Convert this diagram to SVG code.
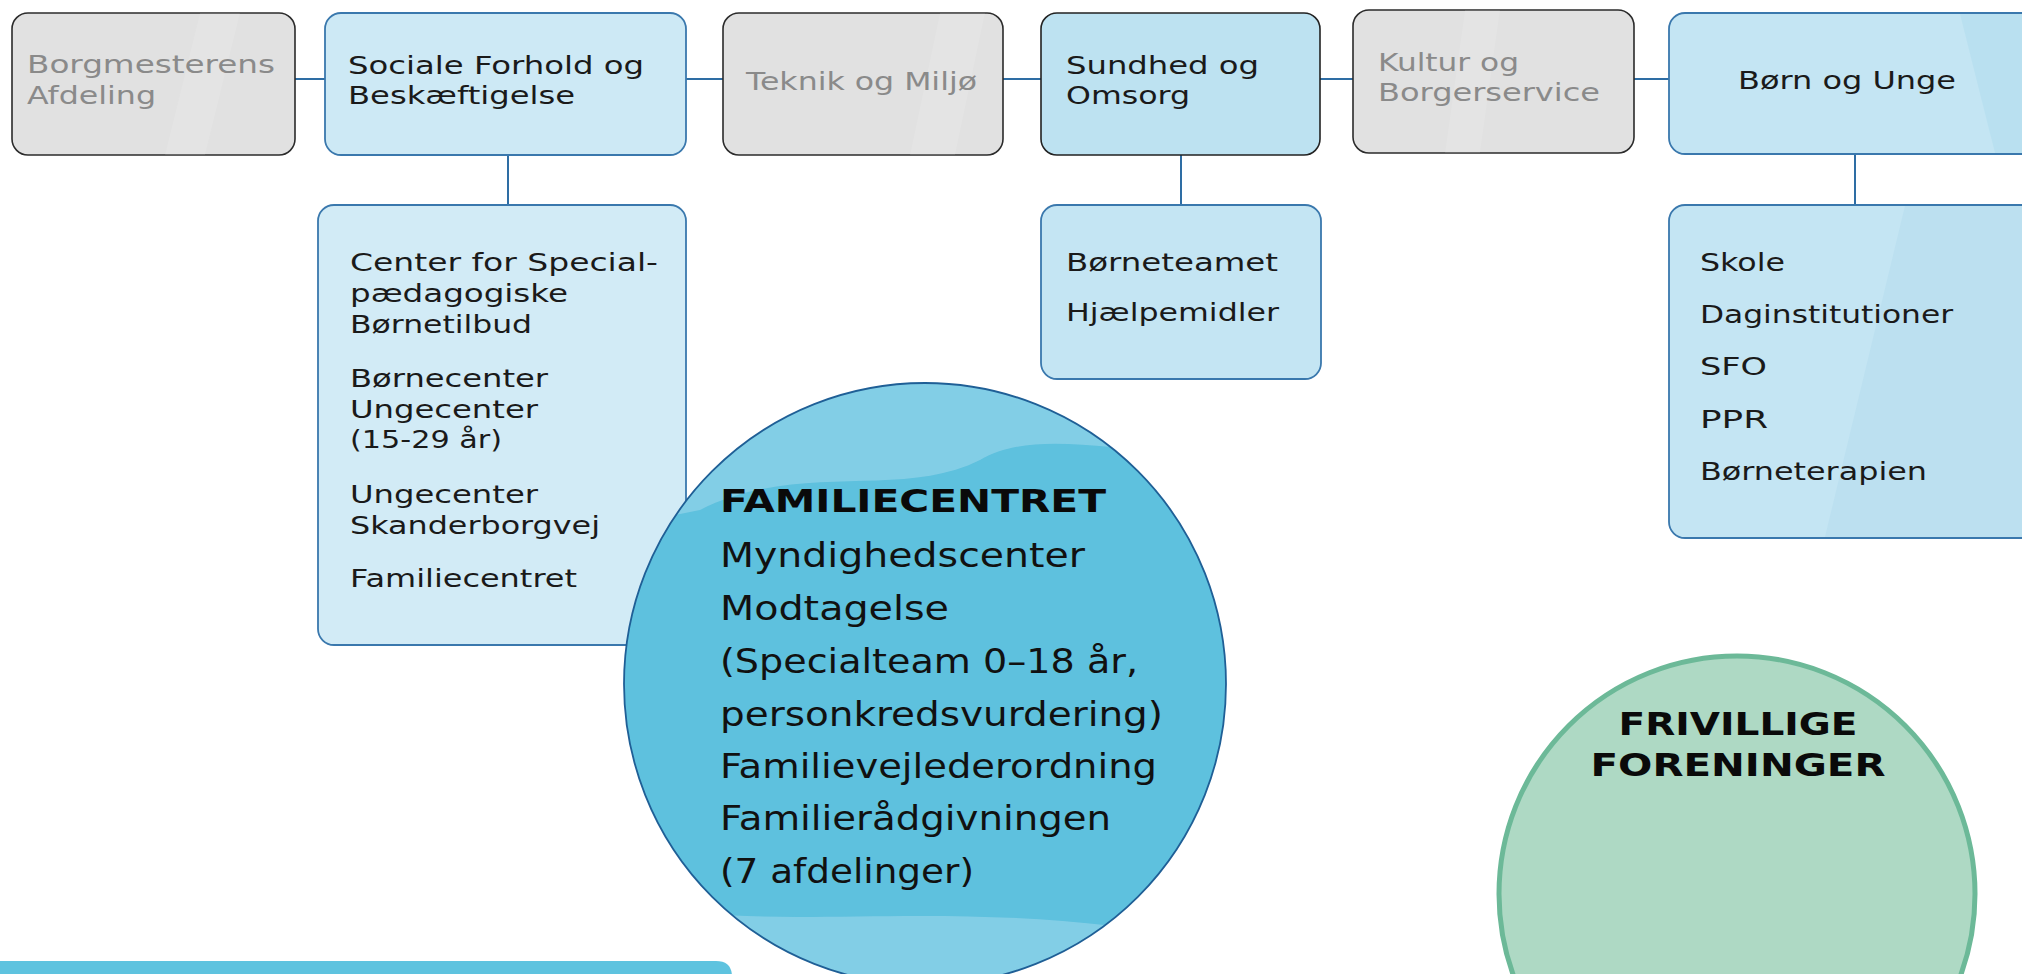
<svg xmlns="http://www.w3.org/2000/svg" width="2022" height="974" viewBox="0 0 2022 974">
  <style>
    .t { font-family: "DejaVu Sans", "Liberation Sans", sans-serif; font-size: 24px; fill: #1a1a1a; }
    .g { fill: #8a8a8a; }
    .big { font-family: "DejaVu Sans", "Liberation Sans", sans-serif; font-size: 34px; fill: #111; }
    .bold { font-family: "DejaVu Sans", "Liberation Sans", sans-serif; font-weight: bold; font-size: 32px; fill: #0a0a0a; }
    .greybox { fill: #e1e1e1; stroke: #2b2b2b; stroke-width: 1.6; }
    .bluebox { fill: #c4e5f3; stroke: #3a78ad; stroke-width: 1.8; }
    .conn { stroke: #2e6da4; stroke-width: 2; fill: none; }
  </style>
  <defs>
    <clipPath id="famclip"><circle cx="925" cy="684" r="301"/></clipPath>
  </defs>
  <rect width="2022" height="974" fill="#ffffff"/>

  <g id="connectors">
    <line class="conn" x1="295" y1="79" x2="1670" y2="79"/>
    <line class="conn" x1="508" y1="155" x2="508" y2="205"/>
    <line class="conn" x1="1181" y1="155" x2="1181" y2="205"/>
    <line class="conn" x1="1855" y1="154" x2="1855" y2="205"/>
  </g>

  <g id="borgmesterens">
    <rect class="greybox" x="12" y="13" width="283" height="142" rx="16"/>
    <path d="M200 13 L240 13 L205 155 L165 155 Z" fill="#ffffff" opacity="0.1"/>
    <text class="t g" x="27" y="73" textLength="248" lengthAdjust="spacingAndGlyphs">Borgmesterens</text>
    <text class="t g" x="27" y="104" textLength="129" lengthAdjust="spacingAndGlyphs">Afdeling</text>
  </g>

  <g id="sociale">
    <rect x="325" y="13" width="361" height="142" rx="16" fill="#cde9f5" stroke="#3a78ad" stroke-width="1.8"/>
    <text class="t" x="348" y="74" textLength="296" lengthAdjust="spacingAndGlyphs">Sociale Forhold og</text>
    <text class="t" x="348" y="104" textLength="227" lengthAdjust="spacingAndGlyphs">Beskæftigelse</text>
  </g>

  <g id="teknik">
    <rect class="greybox" x="723" y="13" width="280" height="142" rx="16"/>
    <path d="M940 13 L985 13 L955 155 L910 155 Z" fill="#ffffff" opacity="0.1"/>
    <text class="t g" x="746" y="90" textLength="231" lengthAdjust="spacingAndGlyphs">Teknik og Miljø</text>
  </g>

  <g id="sundhed">
    <rect x="1041" y="13" width="279" height="142" rx="16" fill="#bde2f1" stroke="#222" stroke-width="1.6"/>
    <text class="t" x="1066" y="74" textLength="193" lengthAdjust="spacingAndGlyphs">Sundhed og</text>
    <text class="t" x="1066" y="104" textLength="124" lengthAdjust="spacingAndGlyphs">Omsorg</text>
  </g>

  <g id="kultur">
    <rect class="greybox" x="1353" y="10" width="281" height="143" rx="16"/>
    <path d="M1465 10 L1500 10 L1480 153 L1445 153 Z" fill="#ffffff" opacity="0.1"/>
    <text class="t g" x="1378" y="71" textLength="141" lengthAdjust="spacingAndGlyphs">Kultur og</text>
    <text class="t g" x="1378" y="101" textLength="222" lengthAdjust="spacingAndGlyphs">Borgerservice</text>
  </g>

  <g id="born">
    <rect class="bluebox" x="1669" y="13" width="380" height="141" rx="16"/>
    <path d="M1960 14 L2030 14 L2030 153 L1995 153 Z" fill="#b3dcee" opacity="0.6"/>
    <text class="t" x="1738" y="89" textLength="218" lengthAdjust="spacingAndGlyphs">Børn og Unge</text>
  </g>

  <g id="sociale-sub">
    <rect x="318" y="205" width="368" height="440" rx="16" fill="#d2ebf6" stroke="#3a78ad" stroke-width="1.8"/>
    <text class="t" x="350" y="271" textLength="308" lengthAdjust="spacingAndGlyphs">Center for Special-</text>
    <text class="t" x="350" y="302" textLength="218" lengthAdjust="spacingAndGlyphs">pædagogiske</text>
    <text class="t" x="350" y="333" textLength="182" lengthAdjust="spacingAndGlyphs">Børnetilbud</text>
    <text class="t" x="350" y="387" textLength="198" lengthAdjust="spacingAndGlyphs">Børnecenter</text>
    <text class="t" x="350" y="418" textLength="188" lengthAdjust="spacingAndGlyphs">Ungecenter</text>
    <text class="t" x="350" y="448" textLength="152" lengthAdjust="spacingAndGlyphs">(15-29 år)</text>
    <text class="t" x="350" y="503" textLength="188" lengthAdjust="spacingAndGlyphs">Ungecenter</text>
    <text class="t" x="350" y="534" textLength="250" lengthAdjust="spacingAndGlyphs">Skanderborgvej</text>
    <text class="t" x="350" y="587" textLength="227" lengthAdjust="spacingAndGlyphs">Familiecentret</text>
  </g>

  <g id="sundhed-sub">
    <rect class="bluebox" x="1041" y="205" width="280" height="174" rx="16"/>
    <text class="t" x="1066" y="271" textLength="212" lengthAdjust="spacingAndGlyphs">Børneteamet</text>
    <text class="t" x="1066" y="321" textLength="213" lengthAdjust="spacingAndGlyphs">Hjælpemidler</text>
  </g>

  <g id="born-sub">
    <rect class="bluebox" x="1669" y="205" width="380" height="333" rx="16"/>
    <path d="M1905 206 L2030 206 L2030 537 L1825 537 Z" fill="#b3dcee" opacity="0.5"/>
    <text class="t" x="1700" y="271" textLength="85" lengthAdjust="spacingAndGlyphs">Skole</text>
    <text class="t" x="1700" y="323" textLength="253" lengthAdjust="spacingAndGlyphs">Daginstitutioner</text>
    <text class="t" x="1700" y="375" textLength="67" lengthAdjust="spacingAndGlyphs">SFO</text>
    <text class="t" x="1700" y="428" textLength="68" lengthAdjust="spacingAndGlyphs">PPR</text>
    <text class="t" x="1700" y="480" textLength="227" lengthAdjust="spacingAndGlyphs">Børneterapien</text>
  </g>

  <g id="familiecentret">
    <circle cx="925" cy="684" r="301" fill="#5ec1de"/>
    <g clip-path="url(#famclip)" fill="#8fd1e8" opacity="0.75">
      <path d="M600 383 L1250 383 L1250 440 C1150 470 1050 420 980 460 C900 500 800 460 700 510 L600 530 Z"/>
      <path d="M600 890 C750 950 950 880 1250 950 L1250 1000 L600 1000 Z"/>
    </g>
    <circle cx="925" cy="684" r="301" fill="none" stroke="#1f5f96" stroke-width="1.8"/>
    <text class="bold" x="720" y="512" textLength="386" lengthAdjust="spacingAndGlyphs">FAMILIECENTRET</text>
    <text class="big" x="720" y="567" textLength="365" lengthAdjust="spacingAndGlyphs">Myndighedscenter</text>
    <text class="big" x="720" y="620" textLength="229" lengthAdjust="spacingAndGlyphs">Modtagelse</text>
    <text class="big" x="720" y="673" textLength="418" lengthAdjust="spacingAndGlyphs">(Specialteam 0–18 år,</text>
    <text class="big" x="720" y="726" textLength="443" lengthAdjust="spacingAndGlyphs">personkredsvurdering)</text>
    <text class="big" x="720" y="778" textLength="437" lengthAdjust="spacingAndGlyphs">Familievejlederordning</text>
    <text class="big" x="720" y="830" textLength="391" lengthAdjust="spacingAndGlyphs">Familierådgivningen</text>
    <text class="big" x="720" y="883" textLength="254" lengthAdjust="spacingAndGlyphs">(7 afdelinger)</text>
  </g>

  <g id="frivillige">
    <circle cx="1737" cy="894" r="238" fill="#aed9c4" stroke="#6cb998" stroke-width="5"/>
    <text class="bold" x="1738" y="735" text-anchor="middle" textLength="239" lengthAdjust="spacingAndGlyphs">FRIVILLIGE</text>
    <text class="bold" x="1738" y="776" text-anchor="middle" textLength="295" lengthAdjust="spacingAndGlyphs">FORENINGER</text>
  </g>

  <g id="bottom-bar">
    <path d="M0 961 L716 961 Q732 961 732 977 L732 990 L0 990 Z" fill="#5ec3df"/>
  </g>
</svg>
